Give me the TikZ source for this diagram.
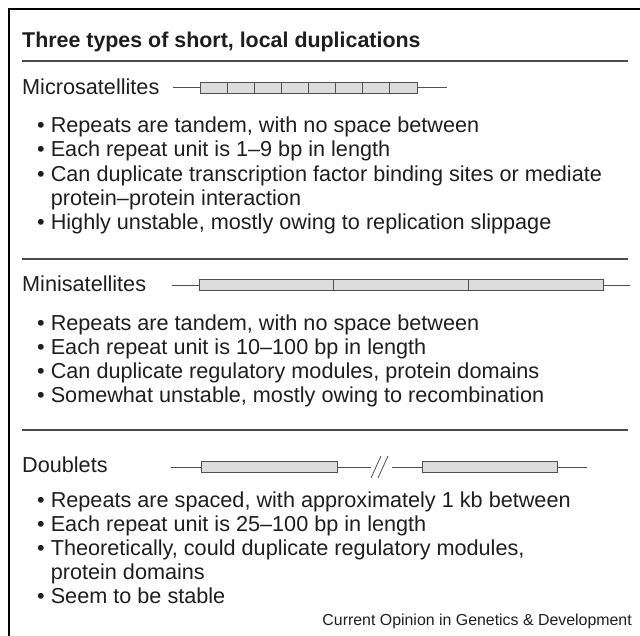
\documentclass[tikz,border=0pt]{standalone}
\usepackage{fontspec}
\setmainfont{Liberation Sans}
\definecolor{txt}{HTML}{1E1E1E}
\definecolor{rulec}{HTML}{4A4A4A}
\definecolor{boxfill}{HTML}{DCDCDC}
\definecolor{boxline}{HTML}{505050}
\begin{document}
\begin{tikzpicture}[x=1pt,y=-1pt,
  txtnode/.style={anchor=base west,inner sep=0pt,text=txt,font=\fontsize{21.65}{24}\selectfont},
  titlenode/.style={anchor=base west,inner sep=0pt,text=txt,font=\fontsize{21.4}{24}\selectfont\bfseries},
  seprule/.style={draw=rulec,line width=1.1pt},
  repbox/.style={draw=boxline,fill=boxfill,line width=0.9pt},
  dnaline/.style={draw=boxline,line width=0.9pt}]
\useasboundingbox (0,0) rectangle (640,636);
% frame
\coordinate (fbl) at (9,636);
\coordinate (ftl) at (9,9);
\coordinate (ftr) at (640,9);
\draw[line width=1.2pt,black] (fbl) -- (ftl) -- (ftr);
% title
\node[titlenode] (title) at (22,47.5) {Three types of short, local duplications};
\coordinate (r1a) at (22,61); \coordinate (r1b) at (628,61);
\draw[seprule] (r1a) -- (r1b);
% Microsatellites
\node[txtnode] (micro) at (22,94.5) {Microsatellites};
\coordinate (m0) at (173,87.5); \coordinate (m1) at (200,87.5);
\coordinate (m2) at (417,87.5); \coordinate (m3) at (447,87.5);
\draw[dnaline] (m0) -- (m1) (m2) -- (m3);
\draw[repbox] (200,82) rectangle (417,93);
\foreach \i in {1,...,7} { \draw[dnaline] ({200+\i*27.125},82) -- ({200+\i*27.125},93); }
\node[txtnode] (mb1) at (37,132.5) {• Repeats are tandem, with no space between};
\node[txtnode] (mb2) at (37,156.8) {• Each repeat unit is 1–9 bp in length};
\node[txtnode] (mb3) at (37,181.1) {• Can duplicate transcription factor binding sites or mediate};
\node[txtnode] (mb3b) at (37,205.4) {\phantom{• }protein–protein interaction};
\node[txtnode] (mb4) at (37,229.7) {• Highly unstable, mostly owing to replication slippage};
\coordinate (r2a) at (22,259); \coordinate (r2b) at (628,259);
\draw[seprule] (r2a) -- (r2b);
% Minisatellites
\node[txtnode] (mini) at (22,291.5) {Minisatellites};
\coordinate (n0) at (172,285); \coordinate (n1) at (199,285);
\coordinate (n2) at (603,285); \coordinate (n3) at (630,285);
\draw[dnaline] (n0) -- (n1) (n2) -- (n3);
\draw[repbox] (199,279.5) rectangle (603,290.5);
\draw[dnaline] (333.5,279.5) -- (333.5,290.5) (468,279.5) -- (468,290.5);
\node[txtnode] (nb1) at (37,330.5) {• Repeats are tandem, with no space between};
\node[txtnode] (nb2) at (37,354.5) {• Each repeat unit is 10–100 bp in length};
\node[txtnode] (nb3) at (37,378.5) {• Can duplicate regulatory modules, protein domains};
\node[txtnode] (nb4) at (37,402.5) {• Somewhat unstable, mostly owing to recombination};
\coordinate (r3a) at (22,430); \coordinate (r3b) at (628,430);
\draw[seprule] (r3a) -- (r3b);
% Doublets
\node[txtnode] (doub) at (22,472.5) {Doublets};
\coordinate (d0) at (171,467); \coordinate (d1) at (201,467);
\coordinate (d2) at (337,467); \coordinate (d3) at (371,467);
\coordinate (d4) at (392,467); \coordinate (d5) at (422,467);
\coordinate (d6) at (557,467); \coordinate (d7) at (587,467);
\draw[dnaline] (d0) -- (d1) (d2) -- (d3) (d4) -- (d5) (d6) -- (d7);
\draw[repbox] (201,461.5) rectangle (337,472.5);
\draw[repbox] (422,461.5) rectangle (557,472.5);
\draw[dnaline,line width=0.8pt] (371,478) -- (381,456) (378,478) -- (388,456);
\node[txtnode] (db1) at (37,507.5) {• Repeats are spaced, with approximately 1 kb between};
\node[txtnode] (db2) at (37,531.5) {• Each repeat unit is 25–100 bp in length};
\node[txtnode] (db3) at (37,555.5) {• Theoretically, could duplicate regulatory modules,};
\node[txtnode] (db3b) at (37,579.5) {\phantom{• }protein domains};
\node[txtnode] (db4) at (37,603.5) {• Seem to be stable};
% footer
\node[anchor=base east,inner sep=0pt,text=txt,font=\fontsize{15.9}{18}\selectfont] (foot) at (632,625.5) {Current Opinion in Genetics \& Development};
\end{tikzpicture}
\end{document}
